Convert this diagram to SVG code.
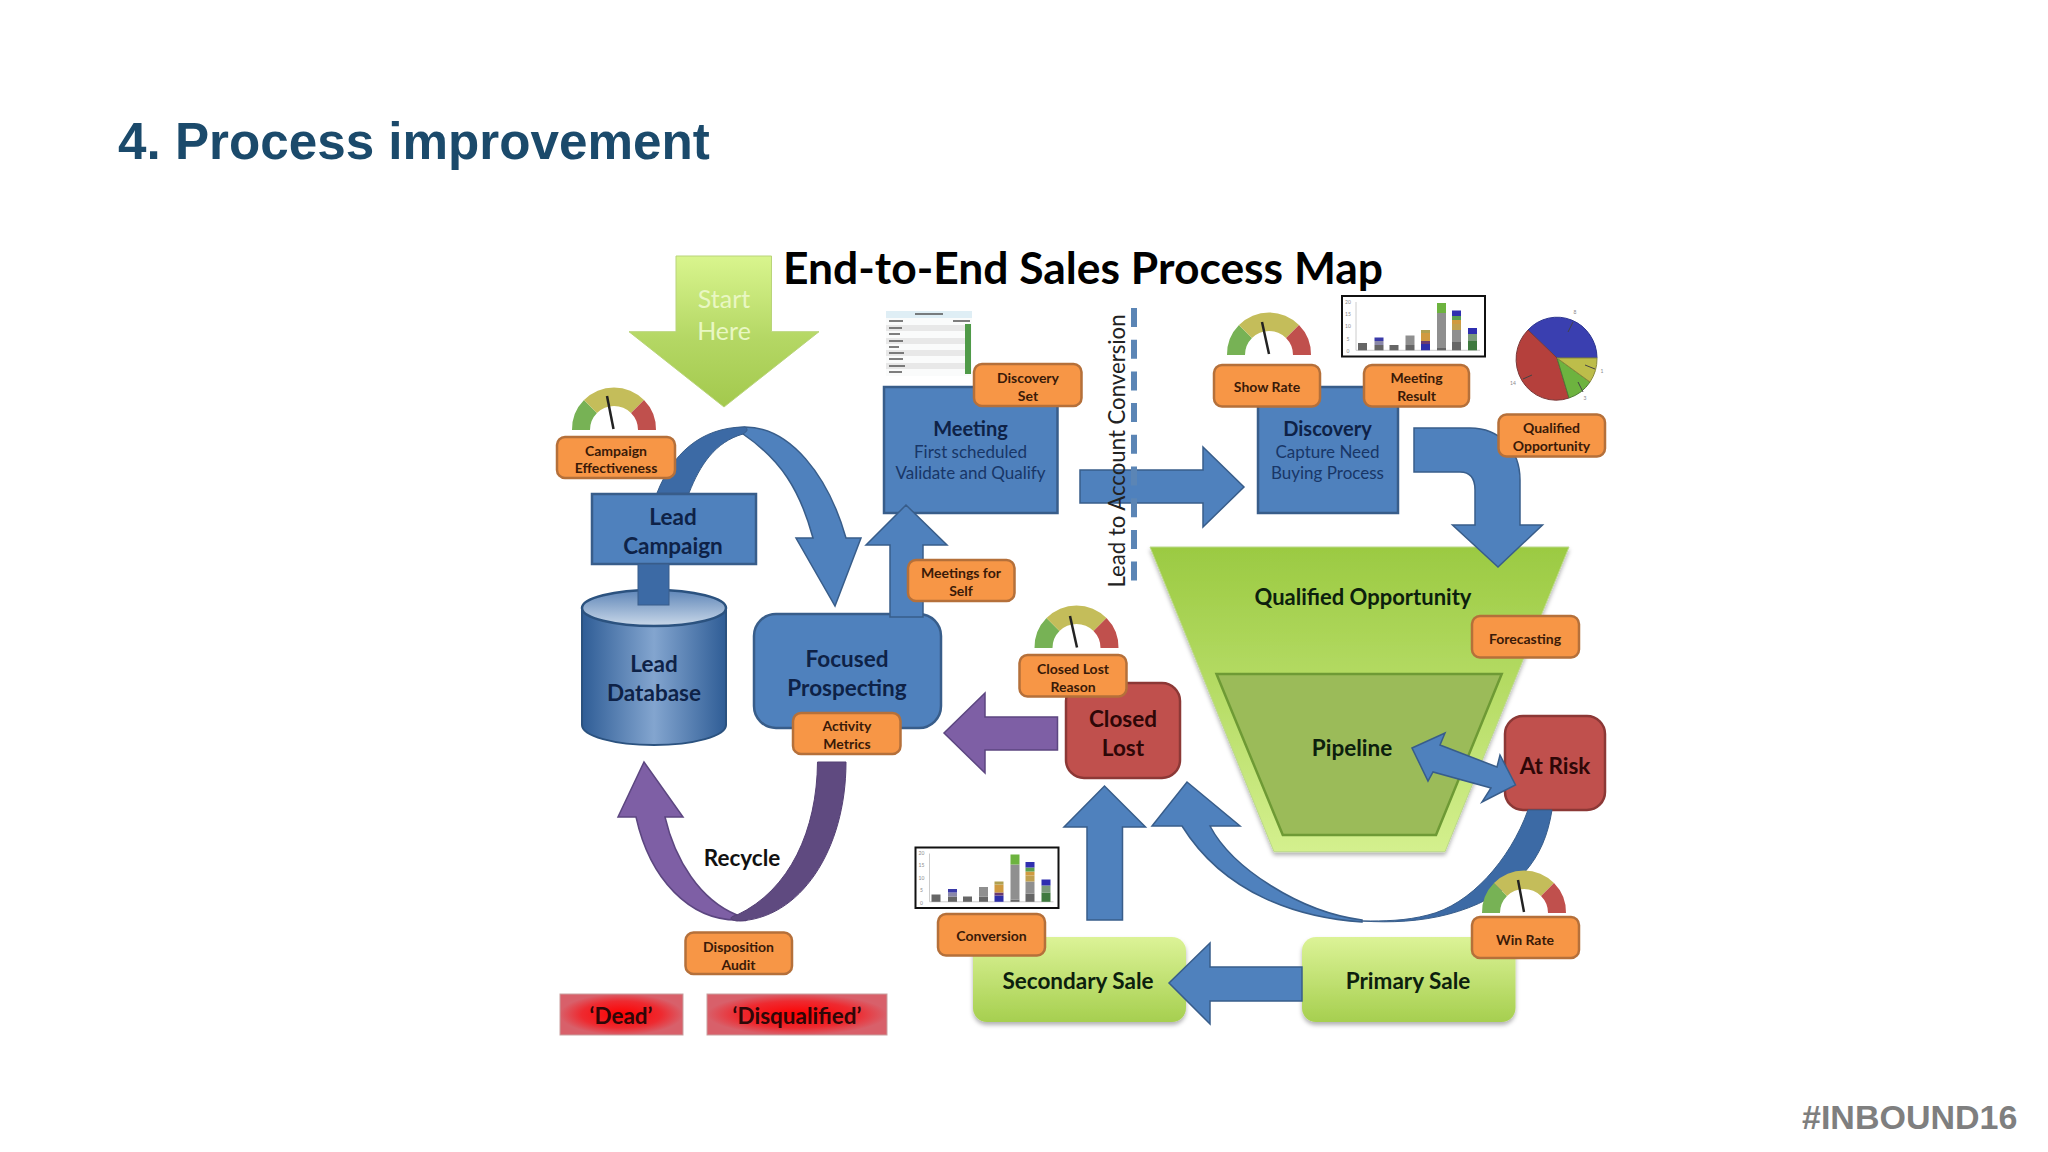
<svg xmlns="http://www.w3.org/2000/svg" width="2048" height="1152" viewBox="0 0 2048 1152">
<style>
text{font-family:Lato,"Liberation Sans",sans-serif;text-anchor:middle}
.slide{font-family:"Liberation Sans",Arial,sans-serif;font-weight:700;text-anchor:start}
.box{fill:#4f81bd;stroke:#385d8a;stroke-width:2.5}
.blue{fill:#4f81bd;stroke:#385d8a;stroke-width:1.5}
.blued{fill:#3c6aa5;stroke:#385d8a;stroke-width:1}
.badge{fill:#f79646;stroke:#b5703a;stroke-width:2.5}
.bt{font-size:14px;font-weight:700;fill:#3a1a08}
.h{font-size:22.5px;font-weight:700;fill:#0e2247}
.h2{font-size:20px;font-weight:700;fill:#0e2247}
.s{font-size:17px;fill:#183667}
.k{font-size:22.5px;font-weight:700;fill:#0c200d}
.q{font-size:22px;font-weight:700;fill:#0c200d}
.r{font-size:22.5px;font-weight:700;fill:#2e0707}
.ax{font-size:5px;fill:#888}
.needle{stroke:#222;stroke-width:2.5;fill:none}
</style>
<defs>
<linearGradient id="gStart" x1="0" y1="0" x2="0" y2="1"><stop offset="0" stop-color="#d9f58e"/><stop offset=".55" stop-color="#b4d764"/><stop offset="1" stop-color="#a3c94d"/></linearGradient>
<linearGradient id="gFunnel" x1="0" y1="0" x2="0" y2="1"><stop offset="0" stop-color="#9bca42"/><stop offset="1" stop-color="#d4f08e"/></linearGradient>
<linearGradient id="gSale" x1="0" y1="0" x2="0" y2="1"><stop offset="0" stop-color="#dcf397"/><stop offset="1" stop-color="#a6cf4f"/></linearGradient>
<linearGradient id="gDb" x1="0" y1="0" x2="1" y2="0"><stop offset="0" stop-color="#2f5d96"/><stop offset=".5" stop-color="#83a5cf"/><stop offset="1" stop-color="#2f5d96"/></linearGradient>
<linearGradient id="gDbTop" x1="0" y1="0" x2="0" y2="1"><stop offset="0" stop-color="#5f86b8"/><stop offset="1" stop-color="#c9d8e9"/></linearGradient>
<radialGradient id="gRed"><stop offset="0" stop-color="#ff0000"/><stop offset=".65" stop-color="#ee2a30"/><stop offset="1" stop-color="#d8606a"/></radialGradient>
<filter id="sh" x="-10%" y="-10%" width="120%" height="125%"><feDropShadow dx="0" dy="3" stdDeviation="2" flood-color="#000" flood-opacity=".3"/></filter>
<g id="gauge">
<path fill="#77b255" d="M-42,0A42,42 0 0 1 -30,-30L-17,-17A24,24 0 0 0 -24,0Z"/>
<path fill="#c4bd5a" d="M-30,-30A42,42 0 0 1 30,-30L17,-17A24,24 0 0 0 -17,-17Z"/>
<path fill="#c0504d" d="M30,-30A42,42 0 0 1 42,0L24,0A24,24 0 0 0 17,-17Z"/>
</g>
<g id="chart">
<rect x="0" y="0" width="143" height="60.5" fill="#fff" stroke="#111" stroke-width="2"/>
<path d="M14,6V54.3H138" fill="none" stroke="#ccc" stroke-width="1"/>
<text class="ax" x="6" y="7.5">20</text><text class="ax" x="6" y="19.5">15</text><text class="ax" x="6" y="32">10</text><text class="ax" x="6" y="44.5">5</text><text class="ax" x="6" y="57">0</text>
<rect x="16" y="47" width="9" height="7.3" fill="#666"/>
<rect x="32.5" y="49" width="9" height="5.3" fill="#666"/><rect x="32.5" y="45" width="9" height="4" fill="#8a88a8"/><rect x="32.5" y="41.5" width="9" height="3.5" fill="#3a3aa8"/>
<rect x="47.5" y="49" width="9" height="5.3" fill="#666"/>
<rect x="63.5" y="49" width="9" height="5.3" fill="#666"/><rect x="63.5" y="39.5" width="9" height="9.5" fill="#8f8f8f"/>
<rect x="79" y="48" width="9" height="6.3" fill="#2e2ea8"/><rect x="79" y="45" width="9" height="3" fill="#6a3a70"/><rect x="79" y="37" width="9" height="8" fill="#d09a40"/><rect x="79" y="34" width="9" height="3" fill="#b0a050"/>
<rect x="95" y="52" width="9" height="2.3" fill="#666"/><rect x="95" y="17" width="9" height="35" fill="#8f8f8f"/><rect x="95" y="7" width="9" height="10" fill="#6db33f"/>
<rect x="110" y="46" width="9" height="8.3" fill="#666"/><rect x="110" y="34" width="9" height="12" fill="#8f8f8f"/><rect x="110" y="28" width="9" height="6" fill="#c0a050"/><rect x="110" y="24" width="9" height="4" fill="#d09a40"/><rect x="110" y="20" width="9" height="4" fill="#5aa050"/><rect x="110" y="14.5" width="9" height="5.5" fill="#3030b0"/>
<rect x="126" y="45" width="9" height="9.3" fill="#3f7a3f"/><rect x="126" y="38" width="9" height="7" fill="#7a9a7a"/><rect x="126" y="32" width="9" height="6" fill="#2e2eb0"/>
</g>
</defs>
<rect width="2048" height="1152" fill="#fff"/>
<text class="slide" x="118" y="159" font-size="51.2" fill="#1b4a6b">4. Process improvement</text>
<text class="slide" x="1802" y="1129" font-size="34" fill="#7f7f7f">#INBOUND16</text>
<text x="1083" y="284" font-size="44.4" font-weight="700" fill="#000">End-to-End Sales Process Map</text>

<g id="node-start">
<path fill="url(#gStart)" stroke="#b9d47a" stroke-width="1" d="M676,256H771.5V331.7H819L724,407L629,331.700H676Z"/>
<text x="724" y="308" font-size="25" fill="#e9f7c3">Start</text>
<text x="724" y="340" font-size="25" fill="#e9f7c3">Here</text>
</g>
<g id="node-lead-campaign">
<rect class="box" x="592" y="494" width="164" height="70"/>
<text class="h" x="673" y="525">Lead</text><text class="h" x="673" y="554">Campaign</text>
</g>
<g id="node-lead-database">
<path fill="url(#gDb)" stroke="#2b527f" stroke-width="2" d="M582,608V725C582,736 614,745 654,745C694,745 726,736 726,725V608Z"/>
<ellipse cx="654" cy="608" rx="72" ry="18" fill="url(#gDbTop)" stroke="#2b527f" stroke-width="2.5"/>
<text class="h" x="654" y="672">Lead</text><text class="h" x="654" y="701">Database</text>
</g>
<g id="node-focused-prospecting">
<rect class="box" x="754" y="614" width="187" height="114" rx="22"/>
<text class="h" x="847" y="667">Focused</text><text class="h" x="847" y="696">Prospecting</text>
</g>
<g id="node-meeting">
<rect class="box" x="884" y="387" width="173.5" height="126"/>
<text class="h2" x="970.5" y="436">Meeting</text><text class="s" x="970.5" y="458">First scheduled</text><text class="s" x="970.5" y="479">Validate and Qualify</text>
</g>
<g id="node-discovery">
<rect class="box" x="1258" y="387" width="140" height="126"/>
<text class="h2" x="1327.5" y="436">Discovery</text><text class="s" x="1327.5" y="458">Capture Need</text><text class="s" x="1327.5" y="479">Buying Process</text>
</g>
<g id="node-qualified-opportunity">
<path fill="url(#gFunnel)" stroke="#bcd98a" stroke-width="1" filter="url(#sh)" d="M1150,547H1569L1445,851.7H1274Z"/>
<text class="q" x="1363" y="605">Qualified Opportunity</text>
</g>
<g id="node-pipeline">
<path fill="#9bbb59" stroke="#6e9a35" stroke-width="2.5" d="M1216.5,674H1501.7L1436,835H1282.8Z"/>
<text class="k" x="1352" y="756">Pipeline</text>
</g>
<g id="node-at-risk">
<rect x="1505" y="716" width="100" height="94" rx="18" fill="#c0504d" stroke="#8c3836" stroke-width="2.5"/>
<text class="r" x="1555" y="774">At Risk</text>
</g>
<g id="node-closed-lost">
<rect x="1066" y="683" width="114" height="95" rx="18" fill="#c0504d" stroke="#8c3836" stroke-width="2.5"/>
<text class="r" x="1123" y="727">Closed</text><text class="r" x="1123" y="756">Lost</text>
</g>
<g id="node-primary-sale">
<rect x="1302" y="937" width="213.5" height="85" rx="14" fill="url(#gSale)" filter="url(#sh)"/>
<text class="k" x="1408" y="989">Primary Sale</text>
</g>
<g id="node-secondary-sale">
<rect x="973" y="937" width="213" height="85" rx="14" fill="url(#gSale)" filter="url(#sh)"/>
<text class="k" x="1078" y="989">Secondary Sale</text>
</g>
<g id="node-dead">
<rect x="560" y="994" width="123" height="41" fill="url(#gRed)" stroke="#c9a0a0" stroke-width="1"/>
<text class="r" x="621" y="1024">‘Dead’</text>
</g>
<g id="node-disqualified">
<rect x="707" y="994" width="180" height="41" fill="url(#gRed)" stroke="#c9a0a0" stroke-width="1"/>
<text class="r" x="797" y="1024">‘Disqualified’</text>
</g>

<g id="connectors">
<path class="blue" d="M745,427C790,427 828,475 846,538H861L835,606L796,538H813C800,490 781,460 743,434L735,428Z"/>
<path class="blued" d="M657,493C672,455 700,427 745,427C748,429 748,431 743,434C715,442 700,465 689,493Z"/>
<rect class="blued" x="638" y="564" width="31" height="41" fill="#3c6aa5"/>
<path class="blue" d="M890,617V545H866L906,505L947,545H923V617Z"/>
<path class="blue" d="M1080,470H1203V447L1244,487L1203,527V503H1080Z"/>
<path class="blue" d="M1414,428H1470C1500,428 1520,450 1520,480V525H1542.5L1498,567L1452.5,525H1475V490C1475,478 1470,472 1460,472H1414Z"/>
<path class="blue" d="M1412,748L1445,733L1440,745L1497,767L1500,755L1515.5,785L1482,802L1491,788L1433,772L1428,781Z"/>
<path class="blued" d="M1528,810C1510,860 1470,905 1428,915C1405,921 1385,921 1362,921C1420,925 1480,915 1524,873C1540,855 1548,835 1552,810Z"/>
<path class="blue" d="M1362,922C1300,918 1225,895 1182,826H1152L1187,782L1240,826H1210C1232,868 1300,912 1362,920Z"/>
<path class="blue" d="M1302,967V1001H1210V1024L1169,983L1210,943V967Z"/>
<path class="blue" d="M1087,920V827H1064L1104.5,786L1145.5,827H1122.5V920Z"/>
<path fill="#7e5fa5" stroke="#5c4680" stroke-width="1.5" d="M1057.5,717V750H985V773L944,733L985,693V717Z"/>
<path fill="#7e5fa5" stroke="#5c4680" stroke-width="1.5" d="M737,920C690,920 650,880 636,817H618L644,762L683,817H665C675,860 700,900 737,915C750,918 750,922 737,920Z"/>
<path fill="#5f4a80" stroke="#544074" stroke-width="1" d="M817.5,762H846C846,850 800,920 737,921C730,920 728,917 737,915C790,890 817,830 817.5,762Z"/>
</g>

<g id="divider">
<line x1="1134" y1="308" x2="1134" y2="581" stroke="#5b85b5" stroke-width="6" stroke-dasharray="19 12.7"/>
<text transform="translate(1125,451) rotate(-90)" font-size="24" fill="#222" textLength="273" lengthAdjust="spacingAndGlyphs">Lead to Account Conversion</text>
</g>

<g id="metric-campaign-effectiveness">
<use href="#gauge" x="614" y="430"/><path class="needle" d="M607,396L613.5,429"/>
<rect class="badge" x="557" y="437" width="118" height="41" rx="8"/>
<text class="bt" x="616" y="456">Campaign</text><text class="bt" x="616" y="473">Effectiveness</text>
</g>
<g id="metric-discovery-set">
<rect x="886" y="311" width="86" height="65" fill="#fafbfb"/><rect x="886" y="311" width="86" height="7" fill="#dfeef5"/>
<path fill="#e8e8e8" d="M886,325h79v6h-79zM886,338h79v6h-79zM886,350h79v6h-79zM886,363h79v6h-79z"/>
<rect x="965" y="324" width="6" height="50" fill="#4f9a48"/>
<path stroke="#555" stroke-width="1.5" fill="none" d="M889,328H902M889,334H900M889,341H903M889,347H899M889,353H904M889,359H903M889,366H905M889,372H902M915,314H943M889,321H903M953,321H970"/>
<rect class="badge" x="974" y="364" width="107.5" height="42" rx="8"/>
<text class="bt" x="1028" y="383">Discovery</text><text class="bt" x="1028" y="401">Set</text>
</g>
<g id="metric-meetings-for-self">
<rect class="badge" x="908" y="560" width="106.5" height="41" rx="8"/>
<text class="bt" x="961" y="578">Meetings for</text><text class="bt" x="961" y="596">Self</text>
</g>
<g id="metric-activity-metrics">
<rect class="badge" x="793" y="713" width="107.5" height="41" rx="8"/>
<text class="bt" x="847" y="731">Activity</text><text class="bt" x="847" y="749">Metrics</text>
</g>
<g id="metric-show-rate">
<use href="#gauge" x="1269" y="355"/><path class="needle" d="M1262,322L1269,354"/>
<rect class="badge" x="1214" y="365" width="106" height="41.5" rx="8"/>
<text class="bt" x="1267" y="392">Show Rate</text>
</g>
<g id="metric-meeting-result">
<use href="#chart" x="1342" y="296"/>
<rect class="badge" x="1364" y="365" width="105" height="41.5" rx="8"/>
<text class="bt" x="1416.5" y="383">Meeting</text><text class="bt" x="1416.5" y="401">Result</text>
</g>
<g id="metric-qualified-opportunity">
<path fill="#3a3fb0" stroke="#2c3590" d="M1557,358H1597A40,41 0 0 0 1528,330Z"/>
<path fill="#b5403c" stroke="#7a3a3a" d="M1557,358L1528,330A40,41 0 0 0 1569,398Z"/>
<path fill="#6db33f" stroke="#4f7a35" d="M1557,358L1569,398A40,41 0 0 0 1590,382Z"/>
<path fill="#bdbd4a" stroke="#8a8a3a" d="M1557,358L1590,382A40,41 0 0 0 1597,358Z"/>
<path stroke="#444" stroke-width="1" fill="none" d="M1573,322L1568,332M1595,369L1585,365M1583,392L1578,382M1523,379L1532,375"/>
<text class="ax" x="1575" y="314">8</text><text class="ax" x="1602" y="373">1</text><text class="ax" x="1585" y="400">3</text><text class="ax" x="1513" y="385">14</text>
<rect class="badge" x="1498.5" y="414.5" width="106.5" height="42" rx="8"/>
<text class="bt" x="1551.5" y="433">Qualified</text><text class="bt" x="1551.5" y="451">Opportunity</text>
</g>
<g id="metric-forecasting">
<rect class="badge" x="1472" y="616" width="107" height="41.5" rx="8"/>
<text class="bt" x="1525" y="644">Forecasting</text>
</g>
<g id="metric-closed-lost-reason">
<use href="#gauge" x="1076.5" y="648"/><path class="needle" d="M1070,616L1077,647.5"/>
<rect class="badge" x="1019.5" y="655" width="107" height="41.5" rx="8"/>
<text class="bt" x="1073" y="674">Closed Lost</text><text class="bt" x="1073" y="692">Reason</text>
</g>
<g id="metric-win-rate">
<use href="#gauge" x="1524" y="913"/><path class="needle" d="M1518,880L1524,912"/>
<rect class="badge" x="1472" y="917" width="107" height="41" rx="8"/>
<text class="bt" x="1525" y="945">Win Rate</text>
</g>
<g id="metric-conversion">
<use href="#chart" x="915.5" y="847.5"/>
<rect class="badge" x="938" y="914" width="107" height="41.5" rx="8"/>
<text class="bt" x="991.5" y="941">Conversion</text>
</g>
<g id="metric-disposition-audit">
<rect class="badge" x="685.5" y="932.5" width="106.5" height="41.5" rx="8"/>
<text class="bt" x="738.5" y="952">Disposition</text><text class="bt" x="738.5" y="970">Audit</text>
</g>
<text x="742" y="866" font-size="22.5" font-weight="700" fill="#111">Recycle</text>
</svg>
